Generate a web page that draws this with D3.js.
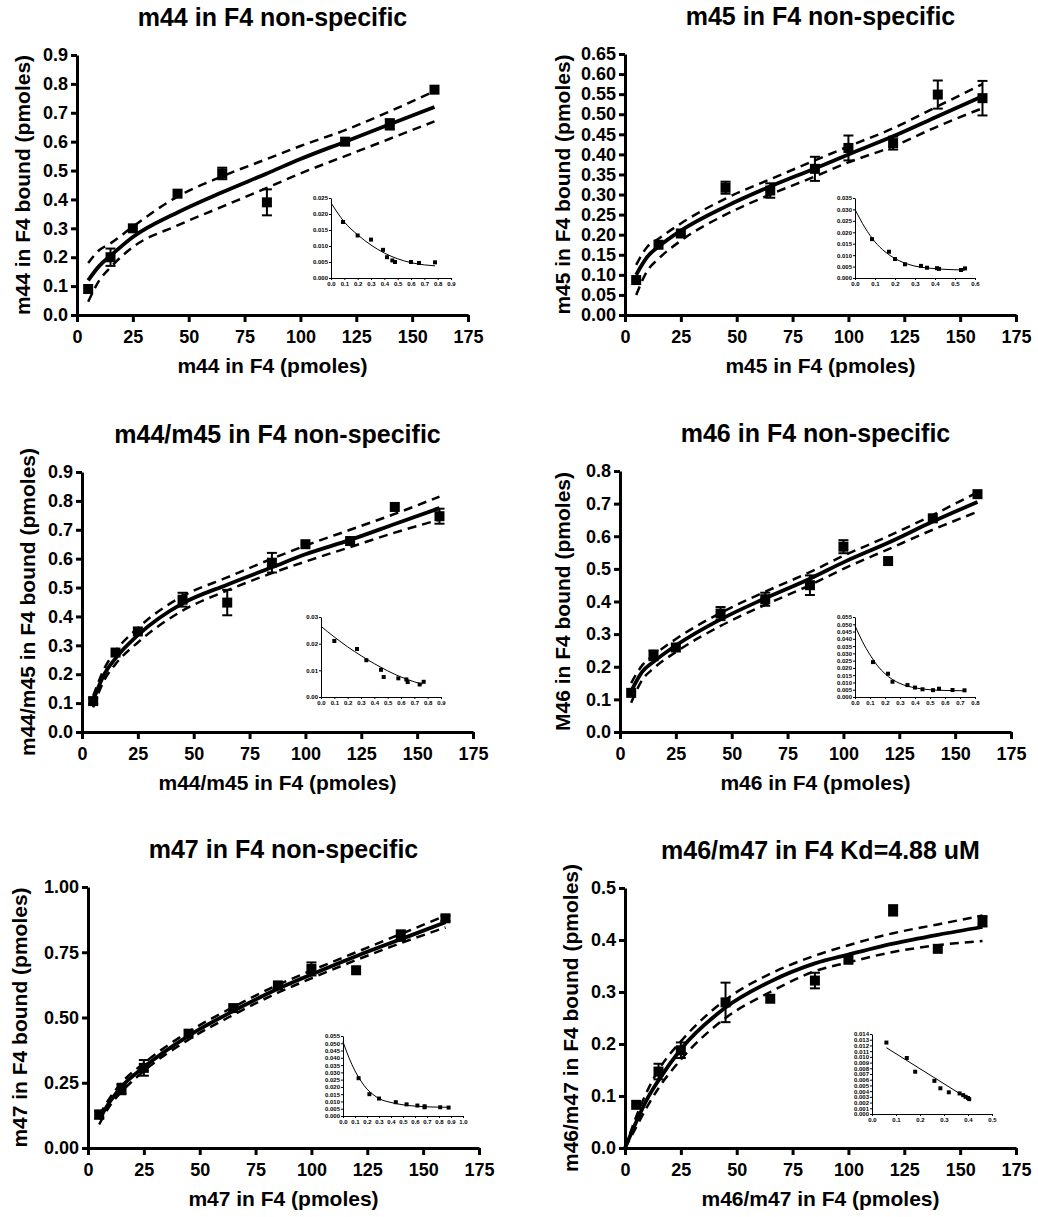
<!DOCTYPE html>
<html>
<head>
<meta charset="utf-8">
<script src="https://cdn.jsdelivr.net/npm/d3@7"></script>
<style>
body { margin: 0; background: #fff; }
svg text { font-family: "Liberation Sans", Arial, Helvetica, sans-serif; font-weight: bold; fill: #000; }
</style>
</head>
<body>
<div id="chart"></div>
<script>
// amounts added (pmoles) - x values of the main plots
var amount = [5, 15, 25, 45, 65, 85, 100, 120, 140, 160];
var amountM44 = [5, 15, 25, 45, 65, 85, 120, 140, 160];
var fitAmount = [5, 10, 15, 25, 45, 65, 85, 100, 120, 140, 160];
var fitAmountKd = [0, 5, 10, 15, 25, 45, 65, 85, 100, 120, 140, 160];
var xTicks = [0, 25, 50, 75, 100, 125, 150, 175];

// m44
var m44Bound = [0.09, 0.20, 0.30, 0.42, 0.49, 0.39, 0.60, 0.66, 0.78];
var m44Err   = [0, 0.03, 0, 0, 0.02, 0.045, 0, 0.018, 0];
var m44Fit   = [0.12, 0.17, 0.205, 0.27, 0.355, 0.425, 0.49, 0.54, 0.60, 0.66, 0.72];
var m44Hi    = [0.18, 0.225, 0.248, 0.306, 0.41, 0.48, 0.54, 0.585, 0.64, 0.705, 0.775];
var m44Lo    = [0.046, 0.12, 0.165, 0.235, 0.31, 0.375, 0.44, 0.49, 0.55, 0.61, 0.67];
var m44ScX   = [0.09, 0.20, 0.30, 0.39, 0.42, 0.46, 0.48, 0.60, 0.66, 0.78];
var m44ScY   = [0.0175, 0.0133, 0.012, 0.0088, 0.0065, 0.0055, 0.005, 0.005, 0.0047, 0.0049];
var m44ScFitX = [0, 0.1, 0.2, 0.3, 0.4, 0.5, 0.6, 0.7, 0.78];
var m44ScFitY = [0.0235, 0.0175, 0.0135, 0.0103, 0.0078, 0.006, 0.0048, 0.0041, 0.0038];

// m45
var m45Bound = [0.087, 0.175, 0.203, 0.317, 0.31, 0.364, 0.416, 0.428, 0.549, 0.54];
var m45Err   = [0, 0, 0, 0.015, 0.018, 0.03, 0.031, 0.016, 0.035, 0.043];
var m45Fit   = [0.10, 0.145, 0.17, 0.21, 0.27, 0.32, 0.365, 0.40, 0.445, 0.495, 0.545];
var m45Hi    = [0.125, 0.17, 0.19, 0.228, 0.29, 0.338, 0.385, 0.42, 0.465, 0.52, 0.575];
var m45Lo    = [0.05, 0.11, 0.14, 0.185, 0.25, 0.30, 0.345, 0.38, 0.42, 0.47, 0.515];
var m45ScX   = [0.085, 0.17, 0.20, 0.25, 0.33, 0.36, 0.41, 0.42, 0.53, 0.55];
var m45ScY   = [0.017, 0.0115, 0.0083, 0.006, 0.0053, 0.0045, 0.0043, 0.004, 0.0035, 0.0042];
var m45ScFitX = [0, 0.05, 0.1, 0.15, 0.2, 0.25, 0.3, 0.4, 0.5, 0.55];
var m45ScFitY = [0.030, 0.022, 0.0158, 0.0115, 0.0085, 0.0065, 0.0052, 0.0041, 0.0036, 0.0035];

// m44/m45
var m4445Bound = [0.107, 0.275, 0.348, 0.458, 0.448, 0.586, 0.65, 0.661, 0.779, 0.747];
var m4445Err   = [0.01, 0, 0, 0.024, 0.044, 0.034, 0, 0, 0, 0.026];
var m4445Fit   = [0.11, 0.20, 0.255, 0.335, 0.445, 0.51, 0.57, 0.615, 0.665, 0.72, 0.775];
var m4445Hi    = [0.125, 0.22, 0.28, 0.36, 0.47, 0.535, 0.60, 0.645, 0.70, 0.755, 0.815];
var m4445Lo    = [0.085, 0.18, 0.235, 0.31, 0.42, 0.49, 0.55, 0.59, 0.64, 0.69, 0.735];
var m4445ScX   = [0.10, 0.27, 0.34, 0.45, 0.47, 0.58, 0.64, 0.65, 0.74, 0.77];
var m4445ScY   = [0.021, 0.018, 0.0138, 0.0102, 0.0075, 0.007, 0.0066, 0.0056, 0.0047, 0.0057];
var m4445ScFitX = [0, 0.1, 0.2, 0.3, 0.4, 0.5, 0.6, 0.7, 0.76];
var m4445ScFitY = [0.0265, 0.0225, 0.0188, 0.0155, 0.0125, 0.0098, 0.0075, 0.0057, 0.0048];

// m46
var m46Bound = [0.12, 0.235, 0.259, 0.363, 0.407, 0.45, 0.568, 0.524, 0.655, 0.729];
var m46Err   = [0, 0.015, 0, 0.02, 0.02, 0.03, 0.02, 0, 0, 0];
var m46Fit   = [0.125, 0.185, 0.215, 0.265, 0.345, 0.41, 0.47, 0.52, 0.58, 0.645, 0.705];
var m46Hi    = [0.15, 0.205, 0.235, 0.285, 0.365, 0.43, 0.49, 0.54, 0.60, 0.665, 0.735];
var m46Lo    = [0.09, 0.16, 0.195, 0.245, 0.325, 0.39, 0.45, 0.50, 0.56, 0.62, 0.675];
var m46ScX   = [0.12, 0.22, 0.25, 0.35, 0.40, 0.45, 0.52, 0.56, 0.65, 0.73];
var m46ScY   = [0.024, 0.016, 0.0105, 0.0082, 0.0065, 0.0053, 0.0047, 0.0057, 0.0048, 0.0046];
var m46ScFitX = [0, 0.05, 0.1, 0.15, 0.2, 0.25, 0.3, 0.4, 0.5, 0.6, 0.73];
var m46ScFitY = [0.049, 0.038, 0.029, 0.0215, 0.016, 0.012, 0.0093, 0.0063, 0.005, 0.0045, 0.0043];

// m47
var m47Bound = [0.128, 0.226, 0.307, 0.438, 0.536, 0.623, 0.686, 0.681, 0.814, 0.88];
var m47Err   = [0.015, 0.02, 0.03, 0, 0, 0, 0.025, 0, 0.02, 0.01];
var m47Fit   = [0.11, 0.18, 0.235, 0.31, 0.43, 0.525, 0.61, 0.665, 0.735, 0.80, 0.865];
var m47Hi    = [0.125, 0.195, 0.25, 0.325, 0.445, 0.54, 0.625, 0.68, 0.75, 0.82, 0.89];
var m47Lo    = [0.09, 0.165, 0.215, 0.295, 0.415, 0.51, 0.595, 0.65, 0.72, 0.785, 0.845];
var m47ScX   = [0.13, 0.22, 0.30, 0.44, 0.53, 0.62, 0.68, 0.68, 0.81, 0.88];
var m47ScY   = [0.026, 0.015, 0.012, 0.0095, 0.008, 0.0072, 0.0067, 0.006, 0.006, 0.0058];
var m47ScFitX = [0, 0.05, 0.1, 0.15, 0.2, 0.25, 0.3, 0.4, 0.5, 0.6, 0.7, 0.88];
var m47ScFitY = [0.051, 0.040, 0.031, 0.024, 0.0185, 0.0148, 0.012, 0.0093, 0.0077, 0.0068, 0.0063, 0.006];

// m46/m47
var m4647Bound = [0.083, 0.147, 0.188, 0.28, 0.287, 0.322, 0.362, 0.457, 0.383, 0.436];
var m4647Err   = [0, 0.015, 0.015, 0.038, 0, 0.015, 0, 0.01, 0, 0.01];
var m4647Fit   = [0, 0.05, 0.095, 0.13, 0.19, 0.27, 0.32, 0.355, 0.372, 0.393, 0.41, 0.425];
var m4647Hi    = [0, 0.06, 0.11, 0.15, 0.205, 0.285, 0.335, 0.37, 0.39, 0.413, 0.43, 0.447];
var m4647Lo    = [0, 0.04, 0.08, 0.115, 0.17, 0.25, 0.30, 0.34, 0.357, 0.377, 0.39, 0.398];
var m4647ScX   = [0.06, 0.145, 0.18, 0.26, 0.285, 0.32, 0.365, 0.38, 0.39, 0.40, 0.405];
var m4647ScY   = [0.0125, 0.0098, 0.0074, 0.0058, 0.0045, 0.0038, 0.0036, 0.0033, 0.003, 0.0028, 0.0026];
var m4647ScFitX = [0.06, 0.41];
var m4647ScFitY = [0.0116, 0.0024];

var panels = [
  {title: "m44 in F4 non-specific", xLabel: "m44 in F4 (pmoles)", yLabel: "m44 in F4 bound (pmoles)",
   xs: amountM44, ys: m44Bound, err: m44Err, fx: fitAmount, fit: m44Fit, hi: m44Hi, lo: m44Lo,
   yMax: 0.9, yStep: 0.1, yFmt: ".1f",
   sx: m44ScX, sy: m44ScY, sfx: m44ScFitX, sfy: m44ScFitY, sxMax: 0.9, sxStep: 0.1, syMax: 0.025, syStep: 0.005, syFmt: ".3f",
   left: 77, top: 55, bottom: 315, yLabX: 23, inX: 254, inY: 143},
  {title: "m45 in F4 non-specific", xLabel: "m45 in F4 (pmoles)", yLabel: "m45 in F4 bound (pmoles)",
   xs: amount, ys: m45Bound, err: m45Err, fx: fitAmount, fit: m45Fit, hi: m45Hi, lo: m45Lo,
   yMax: 0.65, yStep: 0.05, yFmt: ".2f",
   sx: m45ScX, sy: m45ScY, sfx: m45ScFitX, sfy: m45ScFitY, sxMax: 0.6, sxStep: 0.1, syMax: 0.035, syStep: 0.005, syFmt: ".3f",
   left: 625, top: 54, bottom: 315, yLabX: 563, inX: 230, inY: 144},
  {title: "m44/m45 in F4 non-specific", xLabel: "m44/m45 in F4 (pmoles)", yLabel: "m44/m45 in F4 bound (pmoles)",
   xs: amount, ys: m4445Bound, err: m4445Err, fx: fitAmount, fit: m4445Fit, hi: m4445Hi, lo: m4445Lo,
   yMax: 0.9, yStep: 0.1, yFmt: ".1f",
   sx: m4445ScX, sy: m4445ScY, sfx: m4445ScFitX, sfy: m4445ScFitY, sxMax: 0.9, sxStep: 0.1, syMax: 0.03, syStep: 0.01, syFmt: ".2f",
   left: 82, top: 472, bottom: 732, yLabX: 28, inX: 239, inY: 145},
  {title: "m46 in F4 non-specific", xLabel: "m46 in F4 (pmoles)", yLabel: "M46 in F4 bound (pmoles)",
   xs: amount, ys: m46Bound, err: m46Err, fx: fitAmount, fit: m46Fit, hi: m46Hi, lo: m46Lo,
   yMax: 0.8, yStep: 0.1, yFmt: ".1f",
   sx: m46ScX, sy: m46ScY, sfx: m46ScFitX, sfy: m46ScFitY, sxMax: 0.8, sxStep: 0.1, syMax: 0.055, syStep: 0.005, syFmt: ".3f",
   left: 620, top: 471, bottom: 732, yLabX: 563, inX: 235, inY: 146},
  {title: "m47 in F4 non-specific", xLabel: "m47 in F4 (pmoles)", yLabel: "m47 in F4 bound (pmoles)",
   xs: amount, ys: m47Bound, err: m47Err, fx: fitAmount, fit: m47Fit, hi: m47Hi, lo: m47Lo,
   yMax: 1.0, yStep: 0.25, yFmt: ".2f",
   sx: m47ScX, sy: m47ScY, sfx: m47ScFitX, sfy: m47ScFitY, sxMax: 1.0, sxStep: 0.1, syMax: 0.055, syStep: 0.005, syFmt: ".3f",
   left: 88, top: 887, bottom: 1148, yLabX: 20, inX: 255, inY: 149},
  {title: "m46/m47 in F4 Kd=4.88 uM", xLabel: "m46/m47 in F4 (pmoles)", yLabel: "m46/m47 in F4 bound (pmoles)",
   xs: amount, ys: m4647Bound, err: m4647Err, fx: fitAmountKd, fit: m4647Fit, hi: m4647Hi, lo: m4647Lo,
   yMax: 0.5, yStep: 0.1, yFmt: ".1f",
   sx: m4647ScX, sy: m4647ScY, sfx: m4647ScFitX, sfy: m4647ScFitY, sxMax: 0.5, sxStep: 0.1, syMax: 0.014, syStep: 0.001, syFmt: ".3f",
   left: 625, top: 888, bottom: 1148, yLabX: 571, inX: 247, inY: 146}
];

var plotW = 391, insetW = 120, insetH = 80;

var svg = d3.select("#chart").append("svg")
    .attr("width", 1038)
    .attr("height", 1217);

function ticksOf(max, step) {
  var t = [];
  for (var i = 0; i <= Math.round(max / step); i++) t.push(+(i * step).toFixed(4));
  return t;
}

function styleAxis(g, w, fs) {
  g.select(".domain").attr("stroke", "#000").attr("stroke-width", w);
  g.selectAll(".tick line").attr("stroke", "#000").attr("stroke-width", w);
  g.selectAll(".tick text").attr("font-size", fs).attr("fill", "#000");
  g.attr("font-family", null);
}

panels.forEach(function(p) {
  var g = svg.append("g");
  var x = d3.scaleLinear().domain([0, 175]).range([p.left, p.left + plotW]);
  var y = d3.scaleLinear().domain([0, p.yMax]).range([p.bottom, p.top]);

  // title and axis labels
  g.append("text").attr("x", p.left + plotW / 2).attr("y", p.top - 38)
    .attr("text-anchor", "middle").attr("dy", "0.35em").attr("font-size", 25).text(p.title);
  g.append("text").attr("x", p.left + plotW / 2).attr("y", p.bottom + 51)
    .attr("text-anchor", "middle").attr("dy", "0.35em").attr("font-size", 21).text(p.xLabel);
  g.append("text").attr("transform", "translate(" + p.yLabX + "," + (p.top + p.bottom) / 2 + ") rotate(-90)")
    .attr("text-anchor", "middle").attr("dy", "0.35em").attr("font-size", 21).text(p.yLabel);

  // axes
  var xa = g.append("g").attr("transform", "translate(0," + p.bottom + ")")
    .call(d3.axisBottom(x).tickValues(xTicks).tickSize(7).tickSizeOuter(0).tickPadding(8));
  styleAxis(xa, 3, 18);
  var ya = g.append("g").attr("transform", "translate(" + p.left + ",0)")
    .call(d3.axisLeft(y).tickValues(ticksOf(p.yMax, p.yStep)).tickFormat(d3.format(p.yFmt)).tickSize(6).tickSizeOuter(0).tickPadding(3));
  styleAxis(ya, 3, 18);

  // fit line and confidence band
  var line = d3.line().curve(d3.curveMonotoneX)
    .x(function(d) { return x(d[0]); })
    .y(function(d) { return y(d[1]); });
  [p.hi, p.lo].forEach(function(band) {
    g.append("path").datum(p.fx.map(function(v, i) { return [v, band[i]]; }))
      .attr("d", line).attr("fill", "none").attr("stroke", "#000")
      .attr("stroke-width", 2.5).attr("stroke-dasharray", "9,6");
  });
  g.append("path").datum(p.fx.map(function(v, i) { return [v, p.fit[i]]; }))
    .attr("d", line).attr("fill", "none").attr("stroke", "#000").attr("stroke-width", 3.8);

  // error bars
  var pts = p.xs.map(function(v, i) { return {x: v, y: p.ys[i], e: p.err[i]}; });
  var eb = g.append("g").attr("stroke", "#000").attr("stroke-width", 2);
  pts.filter(function(d) { return d.e > 0; }).forEach(function(d) {
    eb.append("line").attr("x1", x(d.x)).attr("x2", x(d.x)).attr("y1", y(d.y - d.e)).attr("y2", y(d.y + d.e));
    eb.append("line").attr("x1", x(d.x) - 5).attr("x2", x(d.x) + 5).attr("y1", y(d.y - d.e)).attr("y2", y(d.y - d.e));
    eb.append("line").attr("x1", x(d.x) - 5).attr("x2", x(d.x) + 5).attr("y1", y(d.y + d.e)).attr("y2", y(d.y + d.e));
  });
  g.append("g").selectAll("rect").data(pts).enter().append("rect")
    .attr("x", function(d) { return x(d.x) - 5; })
    .attr("y", function(d) { return y(d.y) - 5; })
    .attr("width", 10).attr("height", 10).attr("fill", "#000");

  // Scatchard inset
  var ix = p.left + p.inX, iy = p.top + p.inY;
  var sx = d3.scaleLinear().domain([0, p.sxMax]).range([ix, ix + insetW]);
  var sy = d3.scaleLinear().domain([0, p.syMax]).range([iy + insetH, iy]);
  var ixa = g.append("g").attr("transform", "translate(0," + (iy + insetH) + ")")
    .call(d3.axisBottom(sx).tickValues(ticksOf(p.sxMax, p.sxStep)).tickFormat(d3.format(".1f")).tickSize(2).tickSizeOuter(0).tickPadding(1.5));
  styleAxis(ixa, 1, 6);
  var iya = g.append("g").attr("transform", "translate(" + ix + ",0)")
    .call(d3.axisLeft(sy).tickValues(ticksOf(p.syMax, p.syStep)).tickFormat(d3.format(p.syFmt)).tickSize(2).tickSizeOuter(0).tickPadding(1));
  styleAxis(iya, 1, 6);
  var sline = d3.line().curve(d3.curveMonotoneX)
    .x(function(d) { return sx(d[0]); })
    .y(function(d) { return sy(d[1]); });
  g.append("path").datum(p.sfx.map(function(v, i) { return [v, p.sfy[i]]; }))
    .attr("d", sline).attr("fill", "none").attr("stroke", "#000").attr("stroke-width", 1);
  g.append("g").selectAll("rect").data(p.sx.map(function(v, i) { return [v, p.sy[i]]; })).enter().append("rect")
    .attr("x", function(d) { return sx(d[0]) - 2; })
    .attr("y", function(d) { return sy(d[1]) - 2; })
    .attr("width", 4).attr("height", 4).attr("fill", "#000");
});
</script>
</body>
</html>
